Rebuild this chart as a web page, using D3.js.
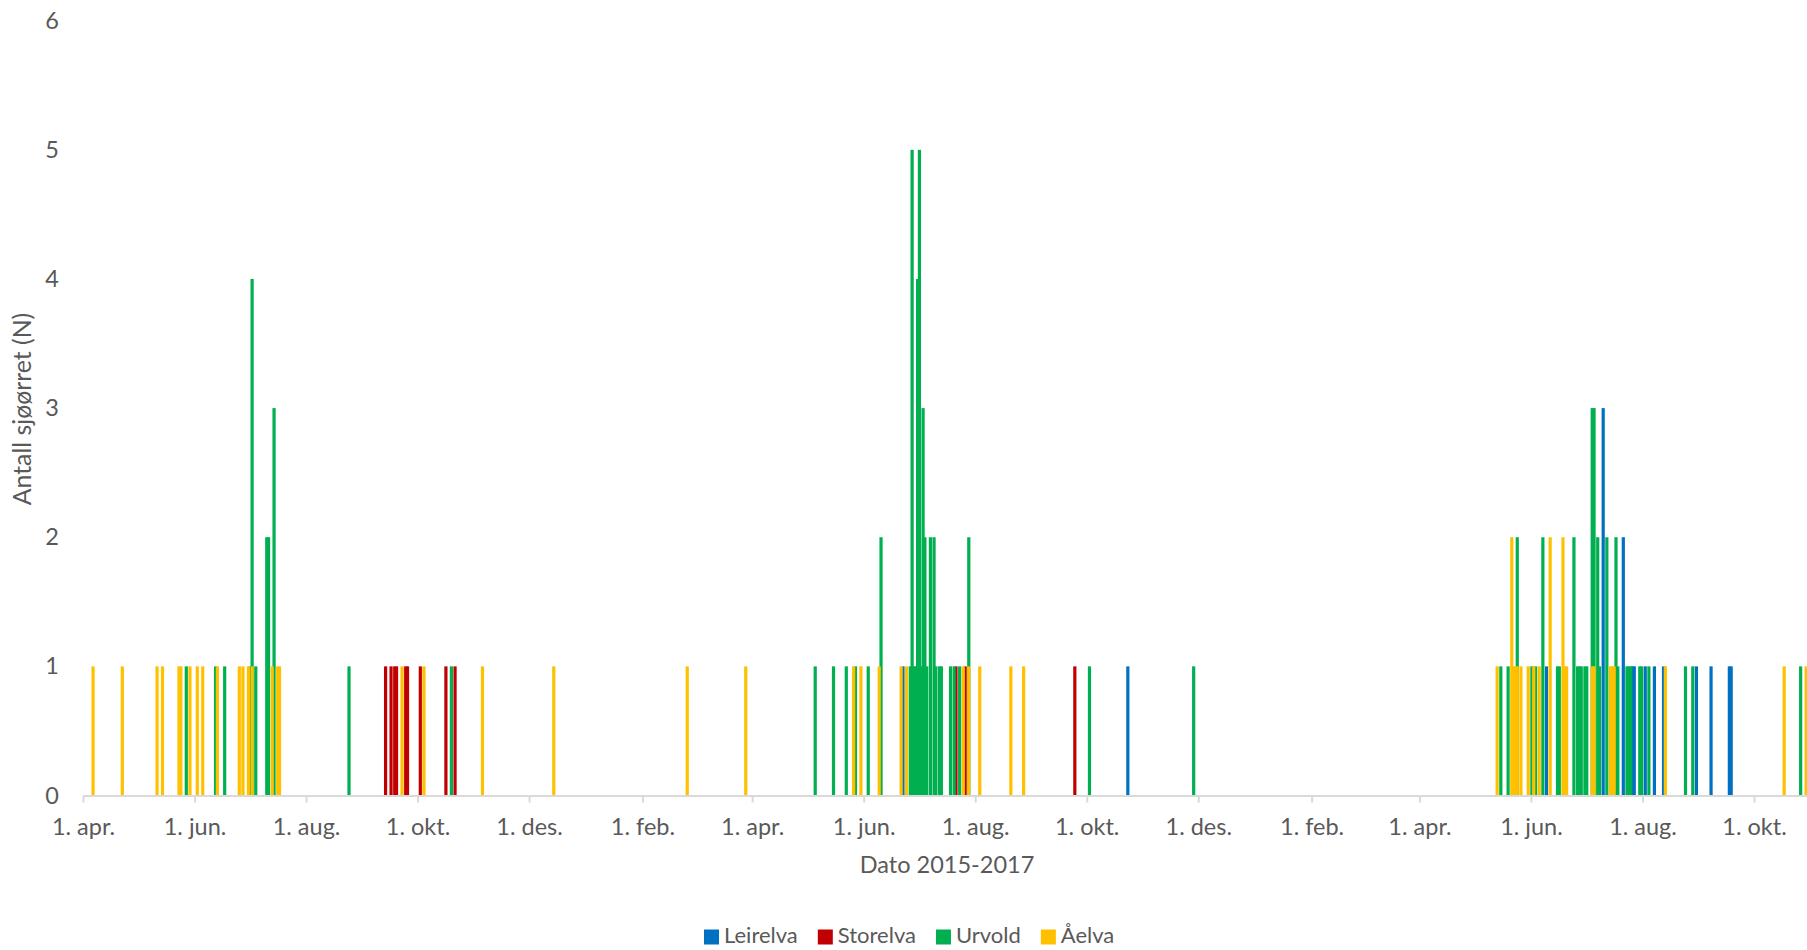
<!DOCTYPE html>
<html>
<head>
<meta charset="utf-8">
<script src="https://cdn.jsdelivr.net/npm/d3@7"></script>
<style>
  html, body { margin: 0; padding: 0; background: #ffffff; }
  svg { display: block; }
  text { font-family: Lato, "Open Sans", sans-serif; fill: #595959; }
</style>
</head>
<body>
<svg id="chart" width="1807" height="950"></svg>
<script>
// ---------------- DATA ----------------
const seriesNames  = ["Leirelva", "Storelva", "Urvold", "Åelva"];
const seriesColors = ["#0070C0", "#C00000", "#00B050", "#FFC000"];

const leirelvaDates  = ["2016-06-22","2016-10-23","2017-06-09","2017-07-10","2017-07-21","2017-07-26","2017-07-27",
                        "2017-08-02","2017-08-07","2017-08-12","2017-08-30","2017-09-07","2017-09-17","2017-09-18"];
const leirelvaCounts = [1,1,1,3,2,1,1, 1,1,1,1,1,1,1];

const storelvaDates  = ["2015-09-13","2015-09-16","2015-09-18","2015-09-19","2015-09-24","2015-09-25","2015-10-02",
                        "2015-10-16","2015-10-21","2016-07-21","2016-07-26","2016-09-24"];
const storelvaCounts = [1,1,1,1,1,1,1, 1,1,1,1,1];

const urvoldDates  = ["2015-05-27","2015-06-12","2015-06-17","2015-07-01","2015-07-02","2015-07-04","2015-07-10",
                      "2015-07-11","2015-07-14","2015-08-24","2015-10-19",
                      "2016-05-05","2016-05-15","2016-05-22","2016-05-27","2016-06-03","2016-06-10","2016-06-26",
                      "2016-06-27","2016-06-28","2016-06-29","2016-06-30","2016-07-01","2016-07-02","2016-07-03",
                      "2016-07-04","2016-07-05","2016-07-07","2016-07-09","2016-07-10","2016-07-12","2016-07-13",
                      "2016-07-18","2016-07-20","2016-07-23","2016-07-28","2016-10-02","2016-11-28",
                      "2017-05-15","2017-05-19","2017-05-24","2017-06-01","2017-06-03","2017-06-07","2017-06-15",
                      "2017-06-16","2017-06-24","2017-06-26","2017-06-27","2017-06-28","2017-06-30","2017-07-01",
                      "2017-07-04","2017-07-05","2017-07-07","2017-07-08","2017-07-12","2017-07-17","2017-07-18",
                      "2017-07-23","2017-07-24","2017-07-25","2017-07-30","2017-07-31","2017-08-04","2017-08-24",
                      "2017-08-28","2017-10-26"];
const urvoldCounts = [1,1,1,1,4,1,2, 2,3,1,1,
                      1,1,1,1,1,2,1, 5,1,1,4,5,1,3, 2,1,2,2,1,1,1, 1,1,1,2,1,1,
                      1,1,2,1,1,2,1, 1,2,1,1,1,1,1, 3,3,2,1,2,2,1, 1,1,1,1,1,1,1, 1,1];

const aelvaDates  = ["2015-04-06","2015-04-22","2015-05-11","2015-05-14","2015-05-23","2015-05-24","2015-05-29",
                     "2015-06-02","2015-06-05","2015-06-13","2015-06-25","2015-06-27","2015-06-30","2015-07-02",
                     "2015-07-13","2015-07-16","2015-07-17","2015-09-22","2015-10-04","2015-11-05","2015-12-14",
                     "2016-02-25","2016-03-28","2016-05-26","2016-05-30","2016-06-09","2016-06-21","2016-06-24",
                     "2016-07-25","2016-07-28","2016-08-03","2016-08-20","2016-08-27",
                     "2017-05-13","2017-05-21","2017-05-22","2017-05-23","2017-05-24","2017-05-26","2017-05-30",
                     "2017-06-02","2017-06-05","2017-06-11","2017-06-18","2017-06-19","2017-06-20","2017-07-04",
                     "2017-07-05","2017-07-14","2017-07-15","2017-07-16","2017-08-13","2017-10-17","2017-10-29"];
const aelvaCounts = [1,1,1,1,1,1,1, 1,1,1,1,1,1,1, 1,1,1,1,1,1,1,
                     1,1,1,1,1,1,1, 1,1,1,1,1,
                     1,2,1,1,1,1,1, 1,1,2,2,1,1,1, 1,1,1,1,1,1,1];

const yTickValues = [0, 1, 2, 3, 4, 5, 6];
const xTickDates  = ["2015-04-01","2015-06-01","2015-08-01","2015-10-01","2015-12-01","2016-02-01","2016-04-01",
                     "2016-06-01","2016-08-01","2016-10-01","2016-12-01","2017-02-01","2017-04-01","2017-06-01",
                     "2017-08-01","2017-10-01"];
const xTickLabels = ["1. apr.","1. jun.","1. aug.","1. okt.","1. des.","1. feb.","1. apr.",
                     "1. jun.","1. aug.","1. okt.","1. des.","1. feb.","1. apr.","1. jun.",
                     "1. aug.","1. okt."];
const xAxisTitle = "Dato 2015-2017";
const yAxisTitle = "Antall sjøørret (N)";
const xDomain = ["2015-04-01", "2017-11-01"];

// ---------------- CHART ----------------
const parse = d3.utcParse("%Y-%m-%d");
const svg = d3.select("#chart");

const x = d3.scaleUtc()
  .domain(xDomain.map(parse))
  .range([83, 1810.7]);
const y = d3.scaleLinear()
  .domain([0, 6])
  .range([795.5, 20.7]);

const seriesData = [
  {dates: leirelvaDates, counts: leirelvaCounts},
  {dates: storelvaDates, counts: storelvaCounts},
  {dates: urvoldDates,   counts: urvoldCounts},
  {dates: aelvaDates,    counts: aelvaCounts}
].map((s, i) => ({
  name: seriesNames[i],
  color: seriesColors[i],
  points: s.dates.map((d, j) => ({date: parse(d), value: s.counts[j]}))
}));

const barW = 3.2;
const barsG = svg.append("g");
seriesData.forEach(s => {
  barsG.append("g")
    .selectAll("rect")
    .data(s.points)
    .join("rect")
    .attr("x", d => {
      const x0 = x(d.date), x1 = x(d3.utcDay.offset(d.date, 1));
      return (x0 + x1) / 2 - barW / 2;
    })
    .attr("width", barW)
    .attr("y", d => y(d.value))
    .attr("height", d => y(0) - y(d.value))
    .attr("fill", s.color);
});

// X axis
const xAxis = d3.axisBottom(x)
  .tickValues(xTickDates.map(parse))
  .tickFormat((d, i) => xTickLabels[i])
  .tickSizeInner(7)
  .tickSizeOuter(0)
  .tickPadding(9);
const gx = svg.append("g")
  .attr("transform", `translate(0,${y(0)})`)
  .call(xAxis);
gx.select(".domain").attr("stroke", "#D9D9D9").attr("stroke-width", 2);
gx.selectAll(".tick line").attr("stroke", "#D9D9D9").attr("stroke-width", 2);
gx.selectAll(".tick text")
  .attr("fill", "#595959")
  .attr("y", 34)
  .attr("dy", null)
  .attr("dominant-baseline", "middle")
  .style("font-family", "Lato, 'Open Sans', sans-serif")
  .style("font-size", "23.5px");

// Y axis (labels only)
const yAxis = d3.axisLeft(y)
  .tickValues(yTickValues)
  .tickFormat(d3.format("d"))
  .tickSize(0)
  .tickPadding(0);
const gy = svg.append("g")
  .attr("transform", `translate(59,0)`)
  .call(yAxis);
gy.select(".domain").remove();
gy.selectAll(".tick text")
  .attr("fill", "#595959")
  .style("font-family", "Lato, 'Open Sans', sans-serif")
  .style("font-size", "23.5px");

// Axis titles
svg.append("text")
  .attr("x", 947).attr("y", 867)
  .attr("text-anchor", "middle")
  .attr("dominant-baseline", "middle")
  .style("font-size", "23.5px")
  .text(xAxisTitle);

svg.append("text")
  .attr("transform", "translate(25,409) rotate(-90)")
  .attr("text-anchor", "middle")
  .attr("dominant-baseline", "middle")
  .style("font-size", "24.8px")
  .text(yAxisTitle);

// Legend
const legend = svg.append("g");
let lx = 704;
seriesData.forEach(s => {
  legend.append("rect")
    .attr("x", lx).attr("y", 929.5)
    .attr("width", 15).attr("height", 15)
    .attr("fill", s.color);
  const t = legend.append("text")
    .attr("x", lx + 20).attr("y", 937.5)
    .attr("dominant-baseline", "middle")
    .style("font-size", "22px")
    .text(s.name);
  lx = lx + 20 + t.node().getComputedTextLength() + 20;
});
</script>
</body>
</html>
